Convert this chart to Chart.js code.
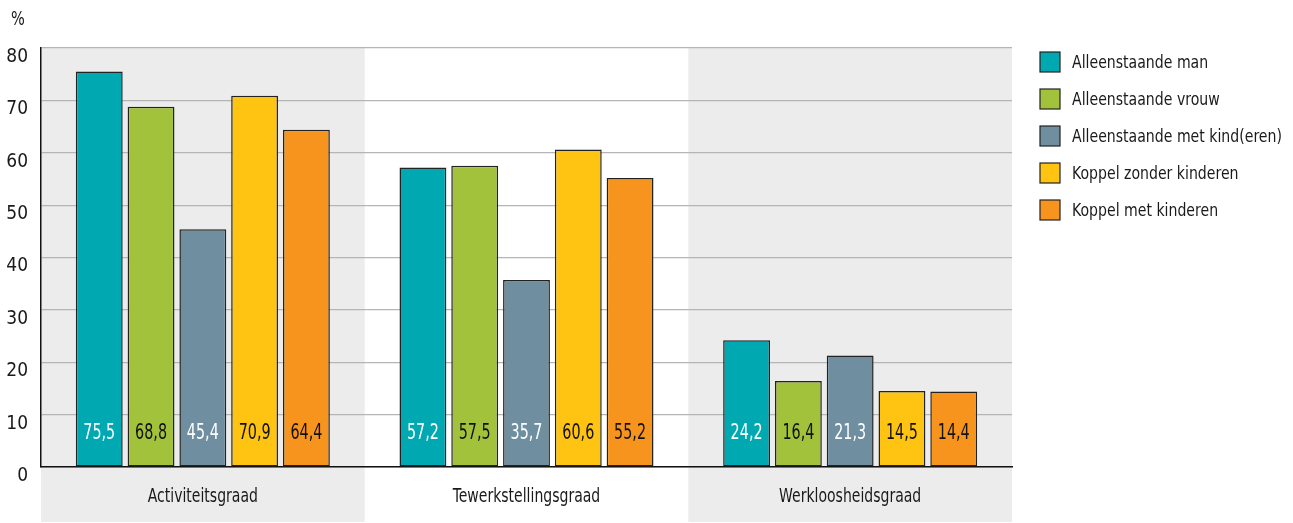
<!DOCTYPE html>
<html>
<head>
<meta charset="utf-8">
<script src="https://cdn.jsdelivr.net/npm/chart.js@4.4.1/dist/chart.umd.min.js"></script>
<style>
  html, body { margin: 0; padding: 0; background: #fff; }
  #wrap { width: 1293px; height: 523px; position: relative; }
</style>
</head>
<body>
<div id="wrap"><canvas id="chart"></canvas></div>
<script>
// ── DATA ─────────────────────────────────────────
const categories = ['Activiteitsgraad', 'Tewerkstellingsgraad', 'Werkloosheidsgraad'];

const seriesNames = [
  'Alleenstaande man',
  'Alleenstaande vrouw',
  'Alleenstaande met kind(eren)',
  'Koppel zonder kinderen',
  'Koppel met kinderen',
];

const alleenMan    = [75.5, 57.2, 24.2];
const alleenVrouw  = [68.8, 57.5, 16.4];
const alleenKind   = [45.4, 35.7, 21.3];
const koppelZonder = [70.9, 60.6, 14.5];
const koppelMet    = [64.4, 55.2, 14.4];

const yTicks = [0, 10, 20, 30, 40, 50, 60, 70, 80];

// ── STYLE ────────────────────────────────────────
const FONT = "'DejaVu Sans Condensed', 'Liberation Sans Narrow', sans-serif";
const colors     = ['#00a9b1', '#a3c23c', '#6f8fa1', '#ffc311', '#f7941e'];
const labelColor = ['#ffffff', '#111111', '#ffffff', '#111111', '#111111'];
const bandColor  = '#ececec';
const TEXT = '#1a1a1a';

const seriesValues = [alleenMan, alleenVrouw, alleenKind, koppelZonder, koppelMet];

// draw text squeezed horizontally (condensed look)
function narrowText(ctx, text, x, y, sx) {
  ctx.save();
  ctx.translate(x, y);
  ctx.scale(sx, 1);
  ctx.fillText(text, 0, 0);
  ctx.restore();
}

// ── PLUGINS ──────────────────────────────────────
const bandsPlugin = {
  id: 'bands',
  beforeDraw(chart) {
    const { ctx, chartArea, scales: { x } } = chart;
    const half = (x.getPixelForValue(1) - x.getPixelForValue(0)) / 2;
    ctx.save();
    ctx.fillStyle = bandColor;
    categories.forEach((_, i) => {
      if (i % 2 === 1) return;
      const cx = x.getPixelForValue(i);
      ctx.fillRect(cx - half, chartArea.top, half * 2, chart.height - 1 - chartArea.top);
    });
    ctx.fillStyle = TEXT;
    ctx.textAlign = 'left';
    ctx.textBaseline = 'middle';
    ctx.font = '19px ' + FONT;
    narrowText(ctx, '%', 11, 20, 0.85);
    // category labels under the axis
    ctx.textAlign = 'center';
    ctx.font = '19px ' + FONT;
    categories.forEach((c, i) => {
      narrowText(ctx, c, x.getPixelForValue(i), chartArea.bottom + 30, 0.82);
    });
    ctx.restore();
  },
};

const valueLabels = {
  id: 'valueLabels',
  afterDatasetsDraw(chart) {
    const { ctx, scales: { y } } = chart;
    ctx.save();
    ctx.font = '21px ' + FONT;
    ctx.textAlign = 'center';
    ctx.textBaseline = 'middle';
    chart.data.datasets.forEach((ds, di) => {
      const meta = chart.getDatasetMeta(di);
      meta.data.forEach((bar, i) => {
        ctx.fillStyle = labelColor[di];
        narrowText(ctx, ds.data[i].toFixed(1).replace('.', ','), bar.x, y.bottom - 33, 0.76);
      });
    });
    ctx.restore();
  },
};

const sideLegend = {
  id: 'sideLegend',
  afterDraw(chart) {
    const { ctx } = chart;
    ctx.save();
    ctx.font = '18px ' + FONT;
    ctx.textAlign = 'left';
    ctx.textBaseline = 'middle';
    seriesNames.forEach((name, i) => {
      const top = 52 + i * 37;
      ctx.fillStyle = colors[i];
      ctx.fillRect(1040, top, 20, 20);
      ctx.strokeStyle = '#222';
      ctx.lineWidth = 1.2;
      ctx.strokeRect(1040, top, 20, 20);
      ctx.fillStyle = TEXT;
      narrowText(ctx, name, 1072, top + 11, 0.87);
    });
    ctx.restore();
  },
};

// ── CHART ────────────────────────────────────────
new Chart(document.getElementById('chart'), {
  type: 'bar',
  data: {
    labels: categories,
    datasets: seriesNames.map((name, i) => ({
      label: name,
      data: seriesValues[i],
      backgroundColor: colors[i],
      borderColor: '#222',
      borderWidth: 1.5,
      borderSkipped: false,
      categoryPercentage: 0.80,
      barPercentage: 0.905,
    })),
  },
  options: {
    responsive: true,
    maintainAspectRatio: false,
    animation: false,
    layout: { padding: { top: 48, right: 281, bottom: 1, left: 0 } },
    plugins: {
      legend: { display: false },
      tooltip: { enabled: false },
    },
    scales: {
      x: {
        grid: { display: false, drawTicks: false },
        border: { display: true, color: '#111', width: 1.5 },
        ticks: { display: false },
        afterFit(scale) { scale.height = 55; },
      },
      y: {
        min: 0,
        max: 80,
        afterBuildTicks(scale) { scale.ticks = yTicks.map(v => ({ value: v })); },
        grid: { color: '#b5b5b5', lineWidth: 1.2, drawTicks: false },
        border: { display: true, color: '#111', width: 1.5 },
        ticks: {
          color: TEXT,
          font: { family: FONT, size: 19 },
          padding: 13,
          labelOffset: 9,
        },
        afterFit(scale) { scale.width = 41; },
      },
    },
  },
  plugins: [bandsPlugin, valueLabels, sideLegend],
});
</script>
</body>
</html>
